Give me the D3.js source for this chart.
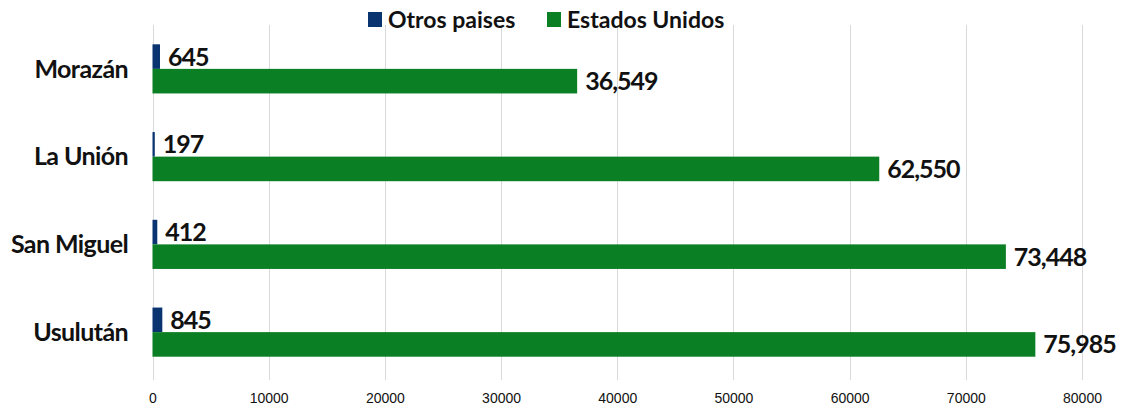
<!DOCTYPE html>
<html>
<head>
<meta charset="utf-8">
<script src="https://cdn.jsdelivr.net/npm/d3@7"></script>
<style>
  body { margin: 0; background: #fff; }
  text { font-family: Lato, "Noto Sans", sans-serif; }
</style>
</head>
<body>
<svg id="chart" width="1127" height="415"></svg>
<script>
const categories = ["Morazán", "La Unión", "San Miguel", "Usulután"];
const otrosPaises = [645, 197, 412, 845];
const estadosUnidos = [36549, 62550, 73448, 75985];
const xTicks = [0, 10000, 20000, 30000, 40000, 50000, 60000, 70000, 80000];
const seriesNames = ["Otros paises", "Estados Unidos"];
const seriesColors = ["#0a3470", "#0b7f23"];

const svg = d3.select("#chart");
const x = d3.scaleLinear().domain([0, 80000]).range([152.5, 1082]);
const y = d3.scaleBand().domain(categories).range([25, 376]);
const barH = y.bandwidth() * 0.28;

// grid
svg.append("g")
  .selectAll("line").data(xTicks).enter().append("line")
  .attr("x1", d => Math.round(x(d)) + 0.5)
  .attr("x2", d => Math.round(x(d)) + 0.5)
  .attr("y1", 25)
  .attr("y2", 380)
  .attr("stroke", "#d9d9d9")
  .attr("stroke-width", 1);

// axis labels
const axis = svg.append("g")
  .attr("transform", "translate(0,390)")
  .call(d3.axisBottom(x).tickValues(xTicks).tickFormat(d3.format("d")).tickSize(0));
axis.select(".domain").remove();
axis.selectAll("text")
  .attr("font-size", "14px")
  .attr("fill", "#111")
  .attr("style", "font-family: 'Liberation Sans Narrow', 'Liberation Sans', sans-serif");

// category labels
svg.append("g")
  .selectAll("text").data(categories).enter().append("text")
  .text(d => d)
  .attr("x", 128)
  .attr("y", d => y(d) + y.bandwidth() / 2)
  .attr("dy", "0.35em")
  .attr("text-anchor", "end")
  .attr("font-size", "25px")
  .attr("letter-spacing", "-0.6px")
  .attr("font-weight", "bold")
  .attr("fill", "#111");

const groups = [otrosPaises, estadosUnidos];
const fmt = d3.format(",");
groups.forEach((values, seriesIndex) => {
  const g = svg.append("g");
  const yOff = seriesIndex === 0 ? -barH : 0;
  g.selectAll("rect").data(values).enter().append("rect")
    .attr("x", x(0))
    .attr("y", (d, i) => y(categories[i]) + y.bandwidth() / 2 + yOff)
    .attr("width", d => x(d) - x(0))
    .attr("height", barH)
    .attr("fill", seriesColors[seriesIndex]);
  g.selectAll("text").data(values).enter().append("text")
    .text(d => fmt(d))
    .attr("x", d => x(d) + 8)
    .attr("y", (d, i) => y(categories[i]) + y.bandwidth() / 2 + yOff + barH / 2)
    .attr("dy", "0.36em")
    .attr("font-size", "25px")
    .attr("letter-spacing", "-1px")
    .attr("font-weight", "bold")
    .attr("fill", "#111");
});

// legend
const legend = svg.append("g");
const legendX = [368, 547];
seriesNames.forEach((name, i) => {
  legend.append("rect")
    .attr("x", legendX[i])
    .attr("y", 12)
    .attr("width", 14)
    .attr("height", 15)
    .attr("fill", seriesColors[i]);
  legend.append("text")
    .text(name)
    .attr("x", legendX[i] + 20)
    .attr("y", 20)
    .attr("dy", "0.35em")
    .attr("font-size", "23px")
    .attr("font-weight", "bold")
    .attr("fill", "#111");
});
</script>
</body>
</html>
